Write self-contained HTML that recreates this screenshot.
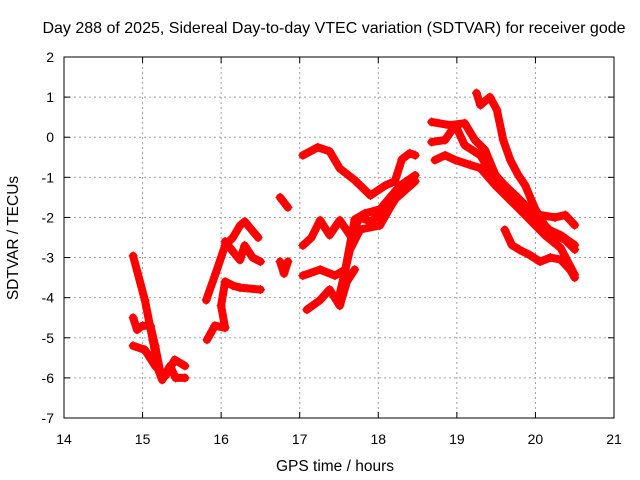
<!DOCTYPE html>
<html><head><meta charset="utf-8"><style>
body{margin:0;background:#fff}
svg{display:block;font-family:"Liberation Sans",sans-serif}
</style></head><body>
<svg id="chart" width="640" height="480">
<rect width="640" height="480" fill="#fff"/>
<text x="334" y="33" font-size="16" text-anchor="middle">Day 288 of 2025, Sidereal Day-to-day VTEC variation (SDTVAR) for receiver gode</text>
<g id="grid"></g><g id="axes"></g><g id="series"></g>
<text x="335" y="471" font-size="15.5" text-anchor="middle">GPS time / hours</text>
<text x="18" y="238" font-size="15.5" text-anchor="middle" transform="rotate(-90 18 238)">SDTVAR / TECUs</text>
</svg>
<script>
const xTicks=[14,15,16,17,18,19,20,21];
const yTicks=[2,1,0,-1,-2,-3,-4,-5,-6,-7];
const trackA=[[14.88,-2.96],[15.03,-4.06],[15.13,-5.06],[15.2,-5.8],[15.25,-6.05],[15.35,-5.7],[15.42,-6.0],[15.54,-6.0]];
const trackA2=[[14.88,-4.5],[14.93,-4.8],[15.0,-4.7],[15.1,-4.7],[15.16,-5.2],[15.22,-5.8]];
const trackA3=[[14.88,-5.2],[15.03,-5.3],[15.16,-5.7],[15.29,-5.95],[15.41,-5.55],[15.54,-5.7]];
const trackB1=[[15.81,-4.06],[15.93,-3.4],[16.05,-2.7],[16.15,-2.5],[16.24,-2.2],[16.3,-2.1],[16.47,-2.5]];
const trackB2=[[16.05,-2.6],[16.15,-2.85],[16.24,-3.06],[16.3,-2.7],[16.4,-3.0],[16.5,-3.1]];
const trackB3=[[15.82,-5.05],[15.92,-4.7],[16.05,-4.75],[16.0,-4.2],[16.05,-3.6],[16.15,-3.7],[16.24,-3.75],[16.5,-3.8]];
const trackC1=[[16.75,-1.5],[16.85,-1.75]];
const trackC2=[[16.75,-3.1],[16.8,-3.4],[16.85,-3.1]];
const trackD=[[17.04,-0.45],[17.23,-0.25],[17.38,-0.35],[17.51,-0.78],[17.7,-1.07],[17.9,-1.45],[18.09,-1.2],[18.21,-1.1],[18.3,-0.55],[18.4,-0.4],[18.47,-0.45]];
const trackE=[[17.04,-3.45],[17.26,-3.3],[17.45,-3.45],[17.58,-3.3],[17.7,-2.05],[17.83,-1.9],[18.02,-1.8],[18.28,-1.2],[18.47,-0.95]];
const trackF=[[17.04,-2.7],[17.15,-2.5],[17.26,-2.07],[17.38,-2.44],[17.51,-2.07],[17.64,-2.44],[17.77,-2.0],[17.9,-2.1],[18.05,-1.9],[18.2,-1.6]];
const trackG=[[17.09,-4.3],[17.26,-4.06],[17.38,-3.8],[17.51,-4.2],[17.6,-3.6],[17.7,-3.3]];
const trackH=[[17.51,-3.9],[17.64,-2.8],[17.77,-2.3],[18.02,-2.2],[18.21,-1.55],[18.47,-1.1]];
const trackI=[[19.25,1.1],[19.3,0.8],[19.42,1.0],[19.51,0.68],[19.59,-0.07],[19.68,-0.57],[19.78,-0.94],[19.87,-1.2],[20.0,-1.8],[20.12,-2.2],[20.25,-2.45],[20.38,-2.56],[20.5,-2.8]];
const trackJ=[[18.68,0.38],[18.91,0.3],[19.1,0.35],[19.23,-0.07],[19.36,-0.32],[19.49,-0.94],[19.61,-1.2],[19.74,-1.44],[19.87,-1.69],[20.06,-1.94],[20.25,-2.0],[20.38,-1.94],[20.5,-2.19]];
const trackK=[[18.68,-0.12],[18.85,-0.07],[18.98,0.3],[19.1,-0.2],[19.3,-0.45],[19.49,-1.07],[19.68,-1.57],[19.93,-1.94],[20.12,-2.26],[20.32,-2.44],[20.5,-2.69]];
const trackL=[[18.72,-0.57],[18.85,-0.45],[18.98,-0.57],[19.17,-0.69],[19.3,-0.77],[19.49,-1.2],[19.68,-1.57],[19.87,-1.94],[20.12,-2.44],[20.32,-2.76],[20.5,-3.43]];
const trackM=[[19.61,-2.31],[19.7,-2.69],[19.8,-2.81],[19.93,-2.94],[20.06,-3.1],[20.19,-3.0],[20.32,-3.05],[20.44,-3.3],[20.5,-3.5]];
const tracks=[trackA,trackA2,trackA3,trackB1,trackB2,trackB3,trackC1,trackC2,trackD,trackE,trackF,trackG,trackH,trackI,trackJ,trackK,trackL,trackM];

const NS="http://www.w3.org/2000/svg";
const L=64,R=614,T=57,B=418;
function X(h){return L+(h-14)/7*(R-L);}
function Y(v){return T+(2-v)/9*(B-T);}
function mk(t,a,p){const e=document.createElementNS(NS,t);for(const k in a)e.setAttribute(k,a[k]);p.appendChild(e);return e;}
const grid=document.getElementById('grid'),axes=document.getElementById('axes'),ser=document.getElementById('series');
xTicks.forEach(t=>{
  if(t>14&&t<21){const g=mk('line',{x1:X(t),x2:X(t),y1:T,y2:B,stroke:'#a0a0a0','stroke-dasharray':'2,3'},grid);
  
  }
  const tx=mk('text',{x:X(t),y:B+26,'font-size':14,'text-anchor':'middle'},axes);tx.textContent=t;
  
  
  mk('line',{x1:X(t),x2:X(t),y1:B,y2:B-6,stroke:'#000'},axes);
  mk('line',{x1:X(t),x2:X(t),y1:T,y2:T+6,stroke:'#000'},axes);
});
yTicks.forEach(t=>{
  if(t<2&&t>-7){const g=mk('line',{x1:L,x2:R,y1:Y(t),y2:Y(t),stroke:'#a0a0a0','stroke-dasharray':'2,3'},grid);
  
  }
  const tx=mk('text',{x:L-10,y:Y(t)+5,'font-size':14,'text-anchor':'end'},axes);tx.textContent=t;
  
  
  mk('line',{x1:L,x2:L+6,y1:Y(t),y2:Y(t),stroke:'#000'},axes);
  mk('line',{x1:R,x2:R-6,y1:Y(t),y2:Y(t),stroke:'#000'},axes);
});
const fr=mk('rect',{x:L,y:T,width:R-L,height:B-T,fill:'none',stroke:'#000'},axes);


tracks.forEach((tr,i)=>{
  const pts=tr.map(p=>X(p[0]).toFixed(1)+','+Y(p[1]).toFixed(1)).join(' ');
  const pl=mk('polyline',{points:pts,fill:'none',stroke:'#f00','stroke-width':8,'stroke-linejoin':'round','stroke-linecap':'round'},ser);
  
  
  tr.forEach(p=>{
    const x=X(p[0]),y=Y(p[1]);
    const m=mk('path',{d:`M${x-4.5},${y}H${x+4.5}M${x},${y-4.5}V${y+4.5}`,stroke:'#f00','stroke-width':1.2},ser);
    
    
  });
});
</script>
</body></html>
